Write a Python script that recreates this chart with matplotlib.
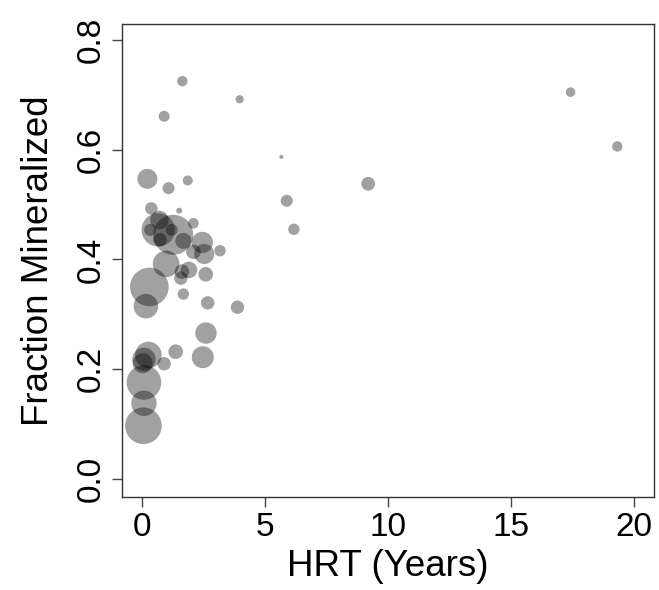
import matplotlib
matplotlib.use("Agg")
import matplotlib.pyplot as plt

plt.rcParams['font.family'] = ['Liberation Sans', 'DejaVu Sans']

# HRT (years), fraction mineralized, bubble radius (px)
hrt = [1.65, 3.98, 0.91, 5.67, 0.23, 1.09, 1.87, 9.20, 5.89, 17.42, 19.32,
       6.18, 0.39, 1.52, 0.72, 2.10, 1.28, 0.67, 0.34, 1.22, 0.74, 1.69,
       2.46, 2.54, 2.10, 3.18, 0.99, 1.63, 1.92, 1.59, 2.60, 0.31, 1.69,
       0.17, 2.68, 3.89, 2.61, 1.38, 2.48, 0.27, 0.09, 0.04, 0.91, 0.09,
       0.09, 0.07]
frac = [0.725, 0.692, 0.661, 0.587, 0.547, 0.530, 0.544, 0.538, 0.507, 0.705, 0.606,
        0.455, 0.493, 0.489, 0.472, 0.466, 0.445, 0.454, 0.454, 0.454, 0.436, 0.434,
        0.431, 0.410, 0.414, 0.416, 0.392, 0.378, 0.381, 0.366, 0.373, 0.350, 0.337,
        0.315, 0.321, 0.313, 0.266, 0.232, 0.222, 0.226, 0.218, 0.211, 0.210, 0.176,
        0.138, 0.097]
radius = [5.2, 4.1, 5.5, 2.0, 10.0, 6.0, 5.0, 6.9, 6.0, 4.8, 5.2,
          5.7, 6.3, 3.0, 9.3, 5.3, 20.0, 16.7, 6.0, 6.0, 6.7, 8.0,
          10.7, 10.0, 7.3, 5.7, 13.3, 7.3, 8.3, 6.7, 7.3, 19.3, 5.7,
          12.3, 6.7, 6.7, 10.7, 7.3, 11.0, 13.3, 11.7, 10.0, 6.7, 17.3,
          12.7, 18.3]

x_ticks = [0, 5, 10, 15, 20]
y_ticks = [0.0, 0.2, 0.4, 0.6, 0.8]

DPI = 100
fig = plt.figure(figsize=(6.59, 5.9), dpi=DPI)
ax = fig.add_axes([0.1847, 0.1581, 0.9924 - 0.1847, 0.9588 - 0.1581])

# radius in px -> marker area in pt^2
sizes = [(2 * r * 72 / DPI) ** 2 for r in radius]
ax.scatter(hrt, frac, s=sizes, color='black', alpha=0.37, linewidths=0)

ax.set_xlim(-0.813, 20.81)
ax.set_ylim(-0.0323, 0.8286)
ax.set_xticks(x_ticks)
ax.set_xticklabels([str(v) for v in x_ticks])
ax.set_yticks(y_ticks)
ax.set_yticklabels([f"{v:.1f}" for v in y_ticks], rotation=90, va='center')

ax.tick_params(axis='both', length=7, width=1, color='#444444',
               labelsize=24, pad=4)
for sp in ax.spines.values():
    sp.set_color('#333333')
    sp.set_linewidth(1)

ax.set_xlabel("HRT (Years)", fontsize=26.5, labelpad=4)
ax.set_ylabel("Fraction Mineralized", fontsize=26.5, labelpad=14)

fig.savefig("out.png", dpi=DPI)
